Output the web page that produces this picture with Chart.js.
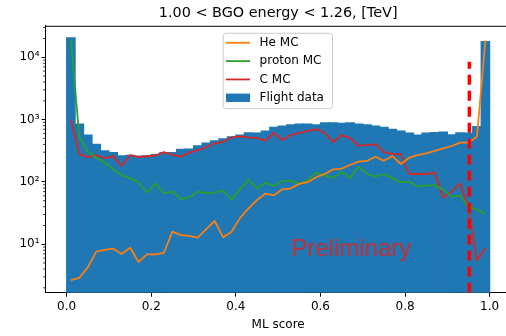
<!DOCTYPE html>
<html>
<head>
<meta charset="utf-8">
<script src="https://cdn.jsdelivr.net/npm/chart.js@4/dist/chart.umd.min.js"></script>
<style>
  html, body { margin: 0; padding: 0; overflow: hidden; background: #fff; }
  #wrap { width: 512px; height: 336px; }
</style>
</head>
<body>
<div id="wrap"><canvas id="chart" width="512" height="336"></canvas></div>
<script>
// bin centres of the 50 histogram bins (width 0.02)
const binCenters = [
  0.01, 0.03, 0.05, 0.07, 0.09, 0.11, 0.13, 0.15, 0.17, 0.19,
  0.21, 0.23, 0.25, 0.27, 0.29, 0.31, 0.33, 0.35, 0.37, 0.39,
  0.41, 0.43, 0.45, 0.47, 0.49, 0.51, 0.53, 0.55, 0.57, 0.59,
  0.61, 0.63, 0.65, 0.67, 0.69, 0.71, 0.73, 0.75, 0.77, 0.79,
  0.81, 0.83, 0.85, 0.87, 0.89, 0.91, 0.93, 0.95, 0.97, 0.99
];

const flightData = [
  20500, 850, 565, 400, 315, 295, 262, 268, 260, 262,
  275, 292, 295, 332, 335, 378, 418, 455, 490, 530,
  565, 615, 605, 655, 750, 790, 820, 850, 850, 820,
  890, 890, 870, 890, 850, 820, 790, 750, 700, 656,
  605, 566, 605, 616, 630, 570, 615, 605, 770, 17800
];

const heMC = [
  2.66, 2.9, 4.25, 7.6, 8.1, 8.5, 7.0, 8.8, 5.2, 6.9,
  6.9, 7.3, 15.9, 14.0, 13.6, 12.8, 17.5, 23.6, 12.9, 15.9,
  26.5, 37.7, 51, 65, 61, 76, 79, 93, 99, 119,
  134, 159, 163, 187, 211, 218, 253, 218, 260, 194,
  245, 270, 288, 316, 344, 377, 427, 427, 532, 18500
];

const protonMC = [
  19500, 520, 310, 245, 205, 160, 129, 115, 99, 67,
  95, 66, 70, 53, 57, 70, 66, 68, 72, 52,
  76, 108, 79, 97, 86, 104, 104, 93, 106, 141,
  127, 115, 146, 115, 176, 134, 122, 134, 115, 98,
  101, 84, 88, 88, 76, 58, 60, 40, 36, 30.6
];

const carbonMC = [
  1000, 280, 250, 270, 240, 260, 180, 270, 250, 258,
  265, 300, 275, 255, 295, 325, 360, 415, 440, 520,
  540, 520, 505, 460, 610, 470, 565, 615, 660, 700,
  615, 435, 565, 505, 380, 390, 405, 300, 280, 278,
  134, 134, 134, 141, 56, 70, 95, 38, 5.5, 8.6
];

const xTicks = [0, 0.2, 0.4, 0.6, 0.8, 1.0];
const yTicks = [10, 100, 1000, 10000];
const yMin = 1.67;
const yMax = 32000;

// ML score cut and the annotation
const cutScore = 0.952;
const cutTop = 8500;
const stampText = 'Preliminary';
const stampX = 0.531;
const stampY = 6.5;

const font = 'DejaVu Sans';
Chart.defaults.font.family = font;
Chart.defaults.color = '#000';

const sup = n => String(n).split('').map(d => '⁰¹²³⁴⁵⁶⁷⁸⁹'[+d]).join('');
const points = arr => binCenters.map((x, i) => ({ x: x, y: arr[i] }));

const lineStyle = (label, data, color) => ({
  type: 'line',
  label: label,
  data: points(data),
  borderColor: color,
  backgroundColor: color,
  borderWidth: 1.8,
  borderJoinStyle: 'round',
  pointRadius: 0,
  tension: 0
});

// matplotlib-like frame, minor log ticks, legend and stamp
const extras = {
  id: 'extras',
  afterDatasetsDraw(chart) {
    const { ctx, scales: { x, y } } = chart;
    ctx.save();
    ctx.font = '24px "Liberation Sans", Arial, sans-serif';
    ctx.fillStyle = 'rgba(214,39,40,0.9)';
    ctx.textBaseline = 'alphabetic';
    ctx.fillText(stampText, x.getPixelForValue(stampX), y.getPixelForValue(stampY));
    ctx.restore();
  },
  afterDraw(chart) {
    const { ctx, chartArea: a, scales: { y } } = chart;
    ctx.save();
    // top spine
    ctx.strokeStyle = '#000';
    ctx.lineWidth = 1;
    ctx.beginPath();
    ctx.moveTo(a.left, a.top + 0.5);
    ctx.lineTo(a.right, a.top + 0.5);
    ctx.stroke();

    // minor ticks
    ctx.lineWidth = 0.8;
    for (let e = 0; e <= 4; e++) {
      for (let k = 2; k <= 9; k++) {
        const v = k * Math.pow(10, e);
        if (v < yMin || v > yMax) continue;
        const py = y.getPixelForValue(v);
        ctx.beginPath();
        ctx.moveTo(a.left - 2.4, py);
        ctx.lineTo(a.left, py);
        ctx.stroke();
      }
    }

    // legend
    const lx = a.left + 177.2, ly = a.top + 7, lw = 109.3, lh = 75.3;
    ctx.fillStyle = 'rgba(255,255,255,0.8)';
    ctx.strokeStyle = '#cccccc';
    ctx.lineWidth = 1;
    ctx.beginPath();
    ctx.roundRect(lx + 0.5, ly + 0.5, lw, lh, 3);
    ctx.fill();
    ctx.stroke();

    const order = [1, 2, 3, 4];
    ctx.font = '12px "' + font + '"';
    ctx.textBaseline = 'middle';
    order.forEach((di, row) => {
      const ds = chart.data.datasets[di];
      const cy = ly + 10 + row * 18.33;
      const hx = lx + 3.3;
      if (ds.type === 'line') {
        ctx.strokeStyle = ds.borderColor;
        ctx.lineWidth = 1.8;
        ctx.beginPath();
        ctx.moveTo(hx, cy);
        ctx.lineTo(hx + 24, cy);
        ctx.stroke();
      } else {
        ctx.fillStyle = ds.backgroundColor;
        ctx.fillRect(hx, cy - 4.2, 24, 8.4);
      }
      ctx.fillStyle = '#000';
      ctx.fillText(ds.label, hx + 33.6, cy);
    });
    ctx.restore();
  }
};

new Chart(document.getElementById('chart'), {
  type: 'bar',
  data: {
    datasets: [
      {
        type: 'line',
        label: 'cut',
        data: [{ x: cutScore, y: yMin }, { x: cutScore, y: cutTop }],
        borderColor: '#ff0000',
        borderWidth: 3.5,
        borderDash: [10, 6],
        borderCapStyle: 'butt',
        pointRadius: 0
      },
      lineStyle('He MC', heMC, '#ff7f0e'),
      lineStyle('proton MC', protonMC, '#2ca02c'),
      lineStyle('C MC', carbonMC, '#d62728'),
      {
        type: 'bar',
        label: 'Flight data',
        data: points(flightData),
        backgroundColor: '#1f77b4',
        borderColor: '#1f77b4',
        borderWidth: 0,
        inflateAmount: 0.6,
        barPercentage: 1,
        categoryPercentage: 1
      }
    ]
  },
  options: {
    responsive: false,
    animation: false,
    layout: { padding: { left: 0, right: 1.2, top: 0, bottom: 0 } },
    plugins: {
      legend: { display: false },
      tooltip: { enabled: false },
      title: {
        display: true,
        fullSize: false,
        text: '1.00 < BGO energy < 1.26, [TeV]',
        color: '#000',
        font: { family: font, size: 14.4, weight: 'normal' },
        padding: { top: 5, bottom: 3.5 }
      }
    },
    scales: {
      x: {
        type: 'linear',
        offset: false,
        min: -0.05,
        max: 1.05,
        afterBuildTicks: s => { s.ticks = xTicks.map(v => ({ value: v })); },
        afterFit: s => { s.height = 43.3; },
        ticks: {
          callback: v => v.toFixed(1),
          color: '#000',
          font: { family: font, size: 12 },
          padding: 3,
          maxRotation: 0,
          autoSkip: false
        },
        grid: { offset: false, drawOnChartArea: false, drawTicks: true, tickLength: 4, tickColor: '#000', tickWidth: 1 },
        border: { color: '#000', width: 1 },
        title: {
          display: true,
          text: 'ML score',
          color: '#000',
          font: { family: font, size: 12 },
          padding: { top: 2, bottom: 4 }
        }
      },
      y: {
        type: 'logarithmic',
        min: yMin,
        max: yMax,
        afterBuildTicks: s => { s.ticks = yTicks.map(v => ({ value: v })); },
        afterFit: s => { s.width = 45.5; },
        ticks: {
          callback: v => '10' + sup(Math.round(Math.log10(v))),
          color: '#000',
          font: { family: font, size: 12 },
          padding: 2,
          autoSkip: false
        },
        grid: { drawOnChartArea: false, drawTicks: true, tickLength: 4, tickColor: '#000', tickWidth: 1 },
        border: { color: '#000', width: 1 }
      }
    }
  },
  plugins: [extras]
});
</script>
</body>
</html>
